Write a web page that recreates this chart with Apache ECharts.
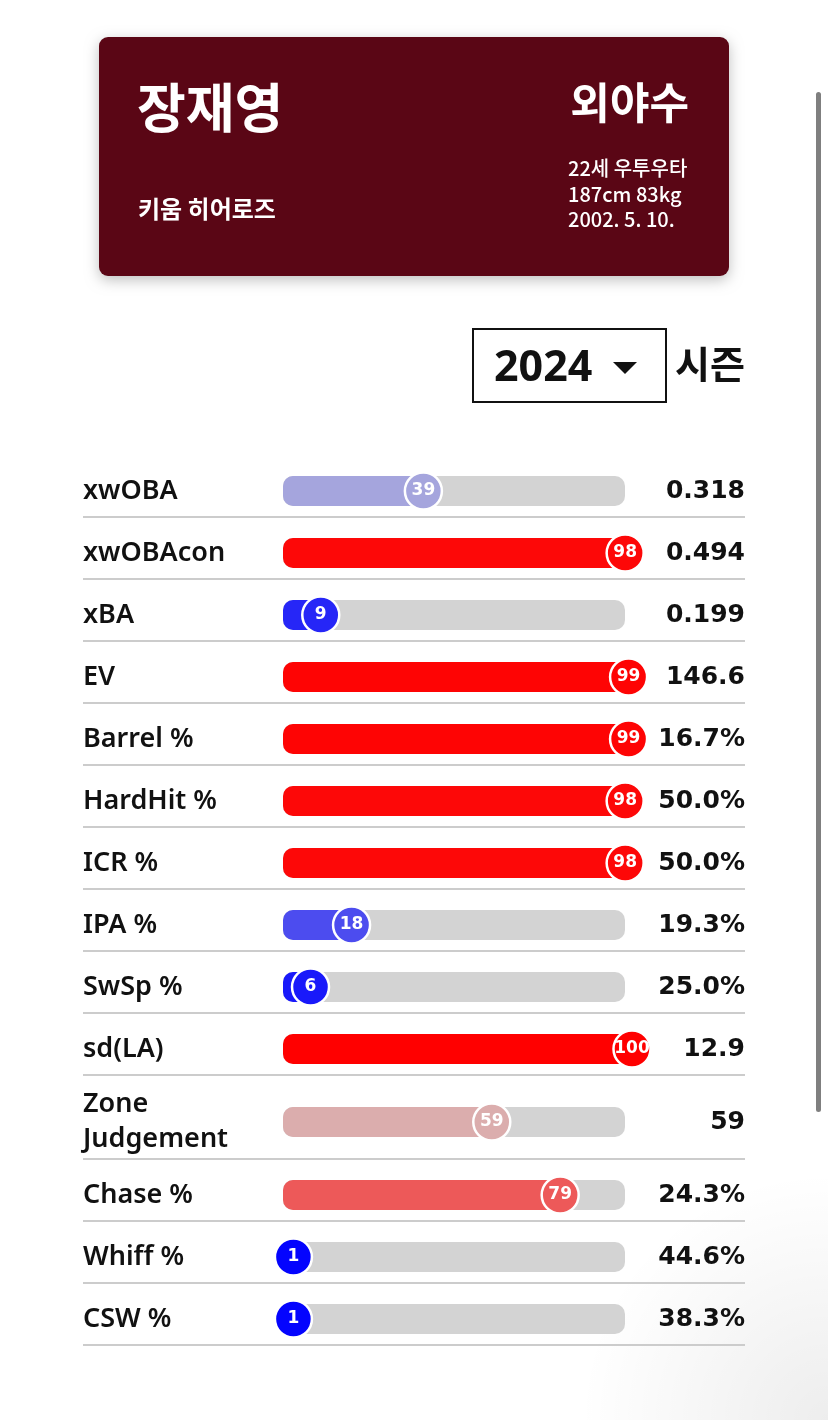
<!DOCTYPE html>
<html>
<head>
<meta charset="utf-8">
<script src="https://cdn.jsdelivr.net/npm/echarts@6/dist/echarts.min.js"></script>
<style>
  html, body { margin: 0; padding: 0; background: #ffffff; }
  #chart { width: 828px; height: 1420px; }
</style>
</head>
<body>
<div id="chart"></div>
<script>
// ---- data ----
const playerName = '장재영';
const teamName = '키움 히어로즈';
const position = '외야수';
const infoLines = ['22세 우투우타', '187cm 83kg', '2002. 5. 10.'];
const season = '2024';
const seasonLabel = '시즌';

const metrics = ['xwOBA', 'xwOBAcon', 'xBA', 'EV', 'Barrel %', 'HardHit %', 'ICR %', 'IPA %',
                 'SwSp %', 'sd(LA)', 'Zone Judgement', 'Chase %', 'Whiff %', 'CSW %'];
const percentiles = [39, 98, 9, 99, 99, 98, 98, 18, 6, 100, 59, 79, 1, 1];
const valueLabels = ['0.318', '0.494', '0.199', '146.6', '16.7%', '50.0%', '50.0%', '19.3%',
                     '25.0%', '12.9', '59', '24.3%', '44.6%', '38.3%'];

// ---- layout (row groups: the two-line row is taller) ----
const groups = [
  { from: 0, to: 10, top: 460, height: 620 },
  { from: 10, to: 11, top: 1080, height: 84 },
  { from: 11, to: 14, top: 1164, height: 186 }
];
const GRID_LEFT = 283, GRID_WIDTH = 342;

// percentile colour scale: blue -> light grey -> red
function pctColor(p) {
  const blue = [0, 0, 255], mid = [211, 211, 211], red = [255, 0, 0];
  let a, b, t;
  if (p <= 50) { a = blue; b = mid; t = p / 50; } else { a = mid; b = red; t = (p - 50) / 50; }
  const c = a.map((v, i) => Math.round(v + (b[i] - v) * t));
  return 'rgb(' + c.join(',') + ')';
}

const labelFont = '"Noto Sans", "DejaVu Sans", sans-serif';
const valueFont = '"DejaVu Sans", "Noto Sans", sans-serif';

const grids = [], xAxes = [], yAxes = [], series = [];
groups.forEach((g, gi) => {
  const cats = metrics.slice(g.from, g.to);
  const pcts = percentiles.slice(g.from, g.to);
  const vals = valueLabels.slice(g.from, g.to);
  grids.push({ left: GRID_LEFT, width: GRID_WIDTH, top: g.top, height: g.height });
  xAxes.push({ type: 'value', gridIndex: gi, min: 0, max: 100, show: false });
  yAxes.push({
    type: 'category', gridIndex: gi, data: cats, inverse: true, position: 'left',
    axisLine: { show: false }, axisTick: { show: false }, splitLine: { show: false },
    axisLabel: {
      align: 'left', margin: 200, color: '#111', fontSize: 27, fontWeight: 600,
      fontFamily: labelFont, width: 190, overflow: 'break', lineHeight: 35,
      padding: [4, 0, 0, 0]
    }
  });
  yAxes.push({
    type: 'category', gridIndex: gi, data: cats, inverse: true, position: 'right',
    axisLine: { show: false }, axisTick: { show: false }, splitLine: { show: false },
    axisLabel: {
      align: 'right', margin: 120, color: '#111', fontSize: 25, fontWeight: 'bold',
      fontFamily: valueFont, padding: [3, 0, 0, 0],
      formatter: (v, i) => vals[i]
    }
  });
  // separators under each row
  series.push({
    type: 'custom', xAxisIndex: gi, yAxisIndex: gi * 2, clip: false, z: 1, silent: true,
    data: cats.map((c, i) => [0, i]),
    renderItem: function (params, api) {
      const c0 = api.coord([0, api.value(1)]);
      const c1 = api.coord([100, api.value(1)]);
      const band = api.size([0, 1])[1];
      const y = c0[1] + band / 2 - 5;
      return {
        type: 'line',
        shape: { x1: c0[0] - 200, y1: y, x2: c1[0] + 120, y2: y },
        style: { stroke: '#cccccc', lineWidth: 2 }
      };
    }
  });
  // percentile bars with grey track
  series.push({
    type: 'bar', xAxisIndex: gi, yAxisIndex: gi * 2, barWidth: 30, z: 2, silent: true,
    showBackground: true,
    backgroundStyle: { color: '#d3d3d3', borderRadius: 10 },
    data: pcts.map(p => ({ value: p, itemStyle: { color: pctColor(p), borderRadius: [10, 0, 0, 10] } }))
  });
  // percentile circles
  series.push({
    type: 'scatter', xAxisIndex: gi, yAxisIndex: gi * 2, z: 3, silent: true,
    symbol: 'circle', symbolSize: 37, symbolOffset: [7, 0],
    data: pcts.map((p, i) => ({
      value: [p, i],
      itemStyle: { color: pctColor(p), opacity: 1, borderColor: '#ffffff', borderWidth: 2.5 }
    })),
    label: {
      show: true, position: 'inside', color: '#ffffff', fontSize: 17,
      fontWeight: 'bold', fontFamily: valueFont,
      formatter: (d) => d.value[0]
    }
  });
});

const chart = echarts.init(document.getElementById('chart'), null, { renderer: 'canvas' });
chart.setOption({
  backgroundColor: '#ffffff',
  animation: false,
  grid: grids, xAxis: xAxes, yAxis: yAxes, series: series,
  graphic: [
    // page shading bottom-right
    { type: 'rect', z: -10, silent: true, shape: { x: 0, y: 0, width: 828, height: 1420 },
      style: { fill: new echarts.graphic.RadialGradient(1, 1, 0.3, [
        { offset: 0, color: 'rgba(0,0,0,0.07)' }, { offset: 1, color: 'rgba(0,0,0,0)' }]) } },
    // scrollbar
    { type: 'rect', z: 10, silent: true, shape: { x: 816, y: 92, width: 5, height: 1020, r: 2.5 },
      style: { fill: '#7f7f7f' } },
    // header card
    { type: 'rect', z: 5, silent: true, shape: { x: 99, y: 37, width: 630, height: 239, r: 9 },
      style: { fill: '#5a0615', shadowBlur: 14, shadowColor: 'rgba(0,0,0,0.25)', shadowOffsetY: 4 } },
    { type: 'text', z: 6, silent: true, left: 137, top: 81,
      style: { text: playerName, fill: '#fff', font: 'bold 53px "Noto Sans CJK KR", sans-serif' } },
    { type: 'text', z: 6, silent: true, left: 138, top: 197,
      style: { text: teamName, fill: '#fff', font: 'bold 24px "Noto Sans CJK KR", sans-serif' } },
    { type: 'text', z: 6, silent: true, right: 828 - 689, top: 81,
      style: { text: position, fill: '#fff', font: 'bold 43px "Noto Sans CJK KR", sans-serif', align: 'right' } },
    { type: 'text', z: 6, silent: true, left: 568, top: 156,
      style: { text: infoLines.join('\n'), fill: '#fff', font: '500 20px "Noto Sans CJK KR", sans-serif', lineHeight: 25.5 } },
    // season dropdown
    { type: 'rect', z: 5, silent: true, shape: { x: 473, y: 329, width: 193, height: 73 },
      style: { fill: '#fff', stroke: '#111', lineWidth: 2 } },
    { type: 'text', z: 6, silent: true, left: 494, top: 347,
      style: { text: season, fill: '#111', font: 'bold 43px "Noto Sans", sans-serif' } },
    { type: 'polygon', z: 6, silent: true, shape: { points: [[613, 362], [637, 362], [625, 374]] },
      style: { fill: '#111' } },
    { type: 'text', z: 6, silent: true, left: 675, top: 345,
      style: { text: seasonLabel, fill: '#111', font: 'bold 38px "Noto Sans CJK KR", sans-serif' } }
  ]
});
</script>
</body>
</html>
